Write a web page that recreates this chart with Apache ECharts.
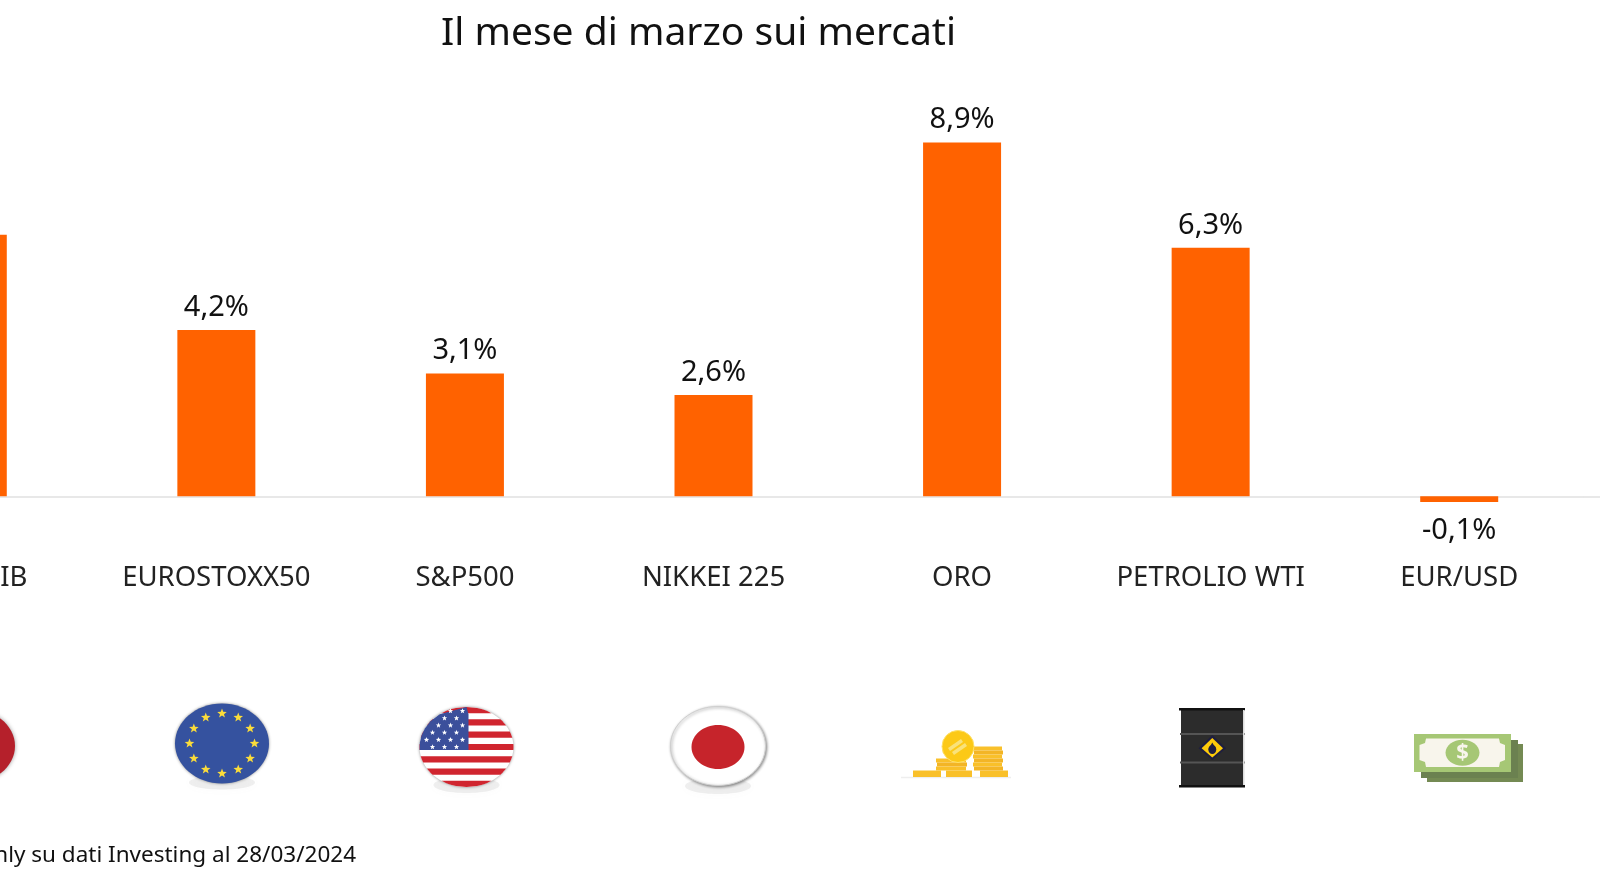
<!DOCTYPE html>
<html>
<head>
<meta charset="utf-8">
<title>Il mese di marzo sui mercati</title>
<script src="https://cdn.jsdelivr.net/npm/echarts@6/dist/echarts.min.js"></script>
<style>
  html, body { margin: 0; padding: 0; background: #fff; overflow: hidden; }
  /* il grafico parte fuori pagina: il primo gruppo resta tagliato a sinistra */
  #chart { position: absolute; left: -157px; top: 0; width: 1757px; height: 880px; }
</style>
</head>
<body>
<div id="chart"></div>
<script>
// dati
const categories = ['FTSE MIB', 'EUROSTOXX50', 'S&P500', 'NIKKEI 225', 'ORO', 'PETROLIO WTI', 'EUR/USD']
const returns = [6.6, 4.2, 3.1, 2.56, 8.93, 6.27, -0.14]
const chartTitle = 'Il mese di marzo sui mercati'
const sourceNote = 'nly su dati Investing al 28/03/2024'

const FONT = '"Noto Sans", sans-serif'
const ORANGE = '#ff6200'
const OFFSET = 157

const formatPct = v => v.toFixed(1).replace('.', ',') + '%'

// punti di una stella a 5 punte
const starPoints = (cx, cy, r) => {
  const pts = []
  for (let i = 0; i < 10; i++) {
    const rad = i % 2 ? r * 0.42 : r
    const a = -Math.PI / 2 + i * Math.PI / 5
    pts.push([cx + rad * Math.cos(a), cy + rad * Math.sin(a)])
  }
  return pts
}

const ellipse = (cx, cy, rx, ry, style) => ({ type: 'ellipse', shape: { cx, cy, rx, ry }, style, silent: true })
const rect = (x, y, width, height, fill) => ({ type: 'rect', shape: { x, y, width, height }, style: { fill }, silent: true })
const poly = (points, fill) => ({ type: 'polygon', shape: { points }, style: { fill }, silent: true })

const softShadow = (cx, cy, rx, ry) => ellipse(cx, cy, rx, ry, { fill: 'rgba(150,150,150,0.14)', shadowBlur: 8, shadowColor: 'rgba(150,150,150,0.25)' })

const italyIcon = () => [
  ellipse(-32, 746, 47, 38, { fill: '#b5202b', shadowBlur: 4, shadowColor: 'rgba(0,0,0,0.4)' })
]

const euroIcon = () => {
  const cx = 222, cy = 743.5
  const out = [
    softShadow(cx, cy + 39, 33, 7),
    ellipse(cx, cy, 47, 40, { fill: '#35529f', shadowBlur: 3, shadowColor: 'rgba(0,0,0,0.45)' })
  ]
  for (let i = 0; i < 12; i++) {
    const a = i * Math.PI / 6
    out.push(poly(starPoints(cx + 32.5 * Math.cos(a), cy + 30 * Math.sin(a), 5), '#fbdc3a'))
  }
  return out
}

// bandiera USA: ogni striscia e' tagliata sul bordo dell'ellisse
const usaIcon = () => {
  const cx = 466.5, cy = 747, rx = 47, ry = 40
  const cantonX = 468.5, top = cy - ry
  const h = ry * 2 / 13
  const out = [
    softShadow(cx, cy + 38, 33, 8),
    ellipse(cx, cy, rx, ry, { fill: '#fff', shadowBlur: 3, shadowColor: 'rgba(0,0,0,0.45)' })
  ]
  const chordPoly = (y0, y1, xMax, fill) => {
    const left = [], right = []
    for (let k = 0; k <= 6; k++) {
      const y = y0 + (y1 - y0) * k / 6
      const d = rx * Math.sqrt(Math.max(0, 1 - ((y - cy) / ry) ** 2))
      left.push([cx - d, y])
      right.unshift([Math.min(xMax, cx + d), y])
    }
    return poly(left.concat(right), fill)
  }
  for (let i = 0; i < 13; i += 2) {
    out.push(chordPoly(top + i * h, top + (i + 1) * h, 999, '#d0252f'))
  }
  out.push(chordPoly(top, top + 7 * h, cantonX, '#3b4f9b'))
  for (let row = 0; row < 6; row++) {
    for (let col = 0; col < 7; col++) {
      const sx = cantonX - 6 - col * 12 - (row % 2 ? 6 : 0)
      const sy = top + 4 + row * 7.2
      const dd = ((sx - cx) / rx) ** 2 + ((sy - cy) / ry) ** 2
      if (dd < 0.94) out.push(poly(starPoints(sx, sy, 2.8), '#fff'))
    }
  }
  return out
}

const japanIcon = () => [
  softShadow(718, 786, 33, 8),
  ellipse(718, 746, 47.5, 39.5, { fill: '#fff', stroke: '#cfcfcf', lineWidth: 1, shadowBlur: 3, shadowOffsetX: 1, shadowOffsetY: 1, shadowColor: 'rgba(0,0,0,0.45)' }),
  ellipse(718, 747, 26.5, 22, { fill: '#c6242b' })
]

const coinStack = (x, y, width, n, h) => {
  const out = []
  for (let i = 0; i < n; i++) {
    out.push(rect(x + (i % 2 ? 1 : 0), y + i * h, width - 1, h, i % 2 ? '#f3b526' : '#f9c02a'))
  }
  return out
}

const goldIcon = () => [
  rect(901, 776.8, 110, 1.4, '#eeeeee'),
  ...coinStack(913, 770.5, 29, 1, 6.5),
  ...coinStack(946, 770.5, 27, 1, 6.5),
  ...coinStack(980, 770.5, 29, 1, 6.5),
  ...coinStack(936, 758.5, 31, 3, 4),
  ...coinStack(973, 746.5, 30, 6, 4),
  { type: 'circle', shape: { cx: 958, cy: 746.5, r: 16 }, style: { fill: '#fcc917', stroke: '#ffe169', lineWidth: 1 }, silent: true },
  poly([[948, 748], [961, 739], [963, 742], [950, 751]], '#f9e27a'),
  poly([[952, 752], [965, 743], [967, 746], [954, 755]], '#f9e27a')
]

const barrelIcon = () => [
  rect(1181, 709, 63, 77, '#2c2c2c'),
  rect(1179, 708, 66, 2.4, '#111'),
  rect(1179, 785, 66, 2.4, '#111'),
  rect(1180, 733, 65, 2, '#555'),
  rect(1180, 761.5, 65, 2, '#555'),
  rect(1243, 710, 1.5, 75, '#dddddd'),
  poly([[1212.3, 735], [1226, 748.3], [1212.3, 760], [1198.6, 748.3]], '#1e1e40'),
  poly([[1212.3, 738], [1223, 748.3], [1212.3, 757.5], [1201.6, 748.3]], '#fdcb0a'),
  ellipse(1212.3, 749.5, 4, 4.5, { fill: '#1e1e40' }),
  poly([[1212.3, 742.5], [1216, 749], [1208.6, 749]], '#1e1e40')
]

const moneyIcon = () => [
  rect(1427, 744, 96, 38, '#748a53'),
  rect(1421, 740, 97, 38, '#6b8150'),
  rect(1414, 734, 97, 38, '#a6c775'),
  poly([[1426, 738.5], [1499, 738.5], [1500, 743], [1505, 745], [1505, 760], [1500, 762], [1499, 767], [1426, 767], [1425, 762], [1419.5, 760], [1419.5, 745], [1425, 743]], '#f8f5ec'),
  ellipse(1462.5, 752.7, 17, 13, { fill: '#a6c775' }),
  {
    type: 'text', silent: true,
    style: { x: 1462.5, y: 752.7, text: '$', fill: '#f8f5ec', font: 'bold 22px ' + FONT, align: 'center', verticalAlign: 'middle' }
  }
]

const option = {
  animation: false,
  backgroundColor: '#ffffff',
  title: {
    text: chartTitle,
    left: 693.5 + OFFSET,
    top: 9,
    textAlign: 'center',
    textStyle: { fontFamily: FONT, fontWeight: 'normal', fontSize: 39, color: '#111' }
  },
  grid: { left: 0.5, right: 16.5, top: 100, bottom: 344 },
  xAxis: {
    type: 'category',
    data: categories,
    axisTick: { show: false },
    axisLine: { onZero: true, lineStyle: { color: '#e8e8e8', width: 2 } },
    axisLabel: {
      interval: 0,
      margin: 28,
      fontFamily: FONT,
      fontSize: 27.5,
      color: '#222'
    }
  },
  yAxis: { type: 'value', min: -1, max: 10, show: false },
  series: [{
    type: 'bar',
    data: returns.map(v => v < 0 ? { value: v, label: { distance: 14 } } : v),
    barWidth: 78,
    itemStyle: { color: ORANGE },
    label: {
      show: true,
      position: 'outside',
      distance: 8,
      formatter: p => formatPct(p.value),
      fontFamily: FONT,
      fontSize: 29,
      color: '#111'
    }
  }],
  graphic: [{
    type: 'group',
    x: OFFSET,
    children: [
      rect(1580, 496, 30, 2, '#e8e8e8'),
      ...italyIcon(), ...euroIcon(), ...usaIcon(), ...japanIcon(),
      ...goldIcon(), ...barrelIcon(), ...moneyIcon(),
      {
        type: 'text',
        silent: true,
        style: { x: 356, y: 856, text: sourceNote, fill: '#111', font: '22.5px ' + FONT, align: 'right', verticalAlign: 'middle' }
      }
    ]
  }]
}

const chart = echarts.init(document.getElementById('chart'))
chart.setOption(option)
</script>
</body>
</html>
